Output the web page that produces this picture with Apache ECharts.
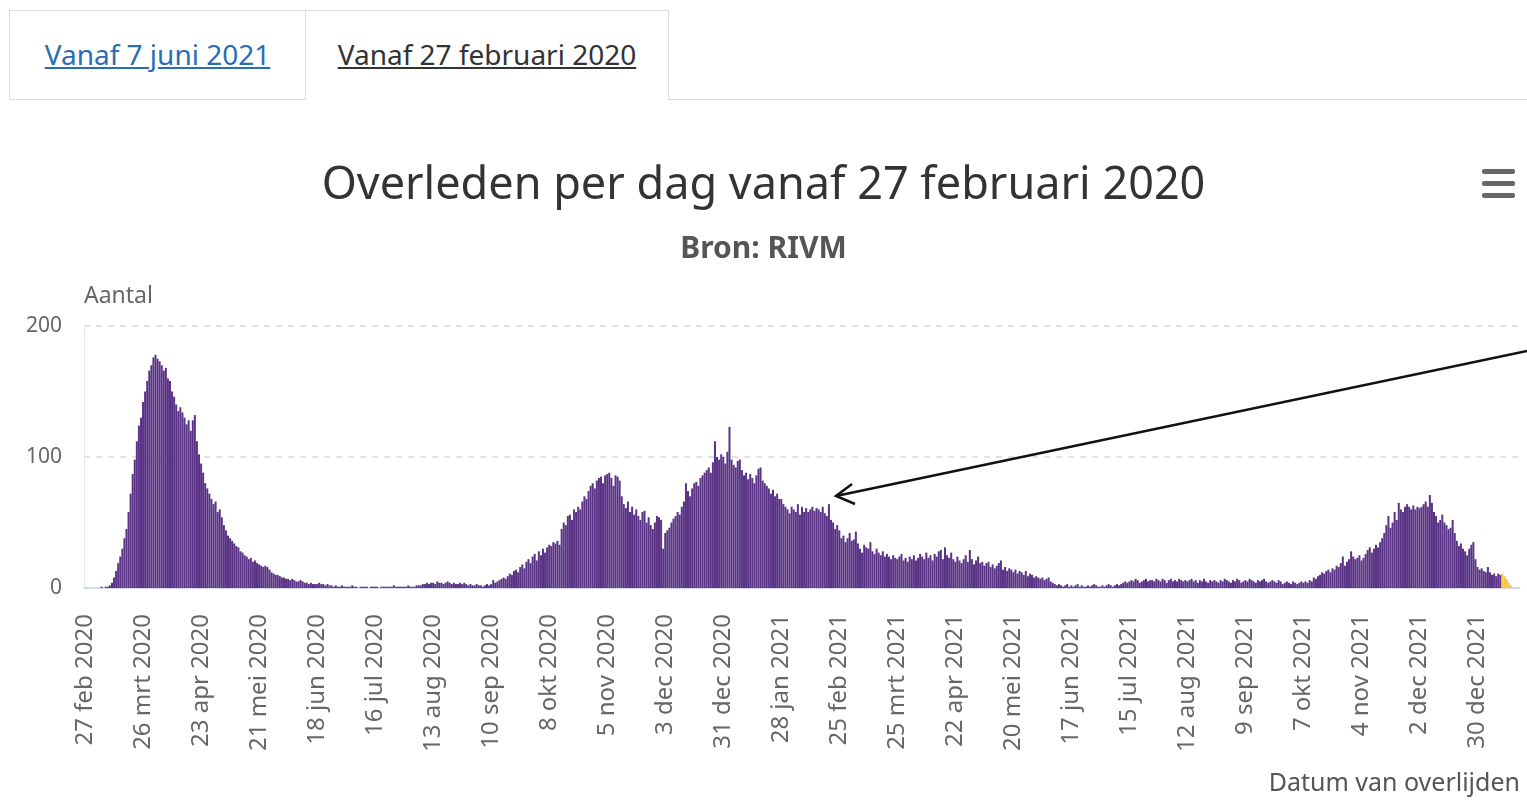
<!DOCTYPE html>
<html>
<head>
<meta charset="utf-8">
<title>Overleden per dag</title>
<script src="https://cdn.jsdelivr.net/npm/echarts@6/dist/echarts.min.js"></script>
<style>
  body { margin: 0; background: #fff; font-family: "Noto Sans", sans-serif; }
  #chartMain { position: absolute; left: 0; top: 0; width: 1527px; height: 800px; }
  .tab {
    position: absolute; top: 10px; height: 90px; box-sizing: border-box;
    border: 1px solid #dcdcdc; background: #fff; z-index: 2;
    font-size: 28px; line-height: 86px; text-align: center;
  }
  .tab a { text-decoration: underline; }
  #tab1 { left: 9px; width: 297px; }
  #tab1 a { color: #2a6db3; }
  #tab2 { left: 305px; width: 364px; border-bottom: none; }
  #tab2 a { color: #333; }
  #tabLine { position: absolute; left: 668px; top: 99px; width: 859px; border-top: 1px solid #dcdcdc; z-index: 2; }
</style>
</head>
<body>
<div id="chartMain"></div>
<div class="tab" id="tab1"><a>Vanaf 7 juni 2021</a></div>
<div class="tab" id="tab2"><a>Vanaf 27 februari 2020</a></div>
<div id="tabLine"></div>
<script>
const maanden = ['jan', 'feb', 'mrt', 'apr', 'mei', 'jun', 'jul', 'aug', 'sep', 'okt', 'nov', 'dec'];
const startDatum = Date.UTC(2020, 1, 27);
const aantalDagen = 693;
const voorlopigVanaf = 684; // laatste dagen nog niet compleet (geel)

// overleden per dag, vanaf 27 feb 2020 (14 dagen per regel)
const overleden = [
  0, 0, 0, 0, 0, 0, 0, 0, 1, 0, 1, 1, 2, 4,
  8, 13, 19, 24, 30, 38, 45, 58, 72, 87, 98, 112, 124, 130,
  142, 150, 158, 166, 170, 176, 178, 175, 173, 170, 166, 168, 160, 158,
  150, 146, 140, 135, 138, 134, 130, 125, 128, 120, 128, 132, 112, 102,
  95, 88, 80, 76, 72, 68, 64, 66, 58, 60, 54, 48, 44, 40,
  38, 36, 34, 32, 31, 28, 27, 25, 24, 22, 23, 20, 21, 19,
  18, 17, 16, 17, 16, 14, 12, 11, 10, 10, 9, 8, 8, 7,
  7, 6, 7, 6, 5, 5, 6, 5, 4, 4, 3, 4, 3, 3,
  3, 4, 3, 3, 2, 3, 2, 2, 1, 2, 1, 1, 2, 1,
  1, 1, 1, 2, 1, 1, 0, 1, 1, 1, 1, 0, 1, 1,
  1, 1, 0, 1, 1, 1, 1, 1, 1, 2, 1, 1, 1, 1,
  1, 1, 2, 1, 1, 1, 2, 2, 2, 3, 3, 4, 3, 4,
  4, 3, 5, 4, 4, 3, 4, 5, 4, 3, 4, 3, 3, 4,
  3, 4, 3, 2, 3, 2, 2, 3, 2, 2, 1, 2, 3, 2,
  3, 6, 4, 5, 6, 7, 8, 7, 9, 11, 10, 13, 14, 12,
  16, 18, 15, 20, 22, 19, 24, 26, 21, 28, 25, 30, 27, 31,
  33, 32, 35, 34, 36, 33, 45, 50, 48, 55, 56, 52, 60, 58,
  62, 60, 66, 70, 68, 74, 78, 80, 76, 82, 84, 85, 80, 86,
  87, 88, 84, 78, 86, 85, 82, 70, 64, 61, 66, 58, 62, 56,
  60, 55, 52, 58, 59, 50, 54, 48, 45, 50, 55, 54, 52, 30,
  42, 44, 46, 50, 53, 55, 58, 56, 62, 66, 80, 74, 70, 76,
  80, 81, 78, 84, 86, 88, 90, 92, 88, 96, 112, 100, 98, 102,
  100, 95, 104, 123, 98, 94, 92, 97, 98, 90, 86, 88, 83, 87,
  84, 80, 86, 91, 92, 82, 80, 78, 76, 72, 75, 70, 72, 68,
  68, 64, 62, 60, 57, 62, 60, 58, 64, 56, 62, 58, 61, 58,
  60, 62, 59, 61, 60, 58, 62, 57, 55, 64, 52, 50, 45, 48,
  44, 38, 40, 35, 38, 42, 36, 37, 43, 34, 30, 27, 33, 31,
  30, 35, 28, 26, 30, 27, 25, 28, 24, 26, 24, 22, 25, 23,
  22, 24, 26, 21, 23, 20, 24, 22, 25, 21, 23, 26, 24, 22,
  27, 23, 25, 21, 26, 24, 28, 29, 22, 31, 25, 23, 27, 22,
  20, 24, 21, 19, 22, 25, 20, 29, 22, 18, 21, 24, 19, 20,
  17, 19, 20, 16, 18, 15, 17, 19, 21, 14, 16, 13, 15, 14,
  12, 14, 11, 13, 12, 10, 13, 9, 11, 10, 8, 9, 8, 7,
  8, 6, 7, 8, 5, 4, 3, 2, 3, 2, 1, 2, 3, 1,
  2, 1, 2, 3, 1, 2, 1, 1, 2, 1, 2, 3, 2, 1,
  1, 2, 1, 2, 3, 2, 1, 2, 3, 2, 3, 4, 5, 4,
  5, 6, 5, 7, 6, 4, 5, 6, 7, 5, 6, 6, 5, 7,
  6, 5, 7, 6, 4, 6, 7, 5, 6, 5, 7, 6, 5, 6,
  5, 6, 7, 5, 6, 4, 6, 5, 7, 5, 4, 6, 5, 6,
  5, 4, 6, 5, 7, 6, 5, 4, 6, 5, 7, 6, 4, 5,
  6, 5, 7, 6, 5, 4, 6, 5, 6, 7, 5, 4, 5, 6,
  5, 4, 6, 5, 3, 4, 5, 4, 3, 5, 4, 3, 4, 5,
  4, 5, 4, 6, 5, 8, 7, 9, 10, 12, 11, 13, 14, 12,
  15, 14, 17, 16, 19, 24, 17, 20, 22, 28, 24, 22, 23, 25,
  21, 23, 26, 29, 31, 27, 30, 33, 31, 35, 38, 42, 48, 55,
  46, 50, 58, 52, 65, 60, 58, 62, 64, 62, 60, 63, 60, 62,
  61, 62, 64, 66, 62, 71, 65, 58, 55, 50, 52, 56, 50, 48,
  45, 46, 52, 42, 36, 32, 34, 30, 28, 25, 30, 33, 35, 22,
  16, 14, 15, 13, 12, 16, 12, 10, 11, 9, 11, 10, 11, 9,
  7, 4, 2, null, null, null, null
];

const dagen = [];
for (let i = 0; i < aantalDagen; i++) {
  const d = new Date(startDatum + i * 86400000);
  dagen.push(d.getUTCDate() + ' ' + maanden[d.getUTCMonth()] + ' ' + d.getUTCFullYear());
}

const compleet = overleden.map((v, i) => (i < voorlopigVanaf ? v : null));
const voorlopig = overleden.map((v, i) => (i >= voorlopigVanaf ? v : null));

const chart = echarts.init(document.getElementById('chartMain'));
const font = 'Noto Sans';
const option = {
  backgroundColor: '#fff',
  animation: false,
  title: {
    text: 'Overleden per dag vanaf 27 februari 2020',
    subtext: 'Bron: RIVM',
    left: 'center',
    top: 159,
    itemGap: 25,
    textStyle: { fontFamily: font, fontSize: 45, fontWeight: 'normal', color: '#333' },
    subtextStyle: { fontFamily: font, fontSize: 30, fontWeight: 'bold', color: '#555' }
  },
  grid: { left: 84, right: 7, top: 326, bottom: 212 },
  xAxis: {
    type: 'category',
    data: dagen,
    boundaryGap: true,
    axisLine: { lineStyle: { color: '#ccd6eb', width: 1.5 } },
    axisTick: { interval: 27, length: 8, alignWithLabel: true, lineStyle: { color: '#ccd6eb' } },
    axisLabel: { interval: 27, rotate: 90, margin: 26, fontFamily: font, fontSize: 24, color: '#666' }
  },
  yAxis: {
    type: 'value',
    min: 0,
    max: 200,
    interval: 100,
    name: 'Aantal',
    nameGap: 18,
    nameTextStyle: { fontFamily: font, fontSize: 23, color: '#666', align: 'left' },
    axisLine: { show: true, lineStyle: { color: '#e3e7ef' } },
    axisLabel: { margin: 22, fontFamily: font, fontSize: 21, color: '#666' },
    splitLine: { lineStyle: { color: '#d9d9d9', type: [6, 6], width: 1.5 } }
  },
  series: [
    {
      name: 'Overleden',
      type: 'bar',
      data: compleet,
      barCategoryGap: '3%',
      barGap: '-100%',
      itemStyle: { color: '#5a3386' }
    },
    {
      name: 'Nog niet compleet',
      type: 'bar',
      data: voorlopig,
      barCategoryGap: '3%',
      barGap: '-100%',
      itemStyle: { color: '#f4c13f' }
    }
  ],
  graphic: [
    {
      type: 'text',
      right: 7,
      top: 771,
      style: { text: 'Datum van overlijden', fontFamily: font, fontSize: 25, fill: '#555' }
    },
    {
      type: 'group',
      left: 1482,
      top: 169,
      children: [
        { type: 'rect', shape: { x: 0, y: 0, width: 33, height: 5, r: 2 }, style: { fill: '#666' } },
        { type: 'rect', shape: { x: 0, y: 12, width: 33, height: 5, r: 2 }, style: { fill: '#666' } },
        { type: 'rect', shape: { x: 0, y: 24, width: 33, height: 5, r: 2 }, style: { fill: '#666' } }
      ]
    },
    // pijl naar de periode rond 25 feb 2021
    {
      type: 'line',
      shape: { x1: 1527, y1: 351, x2: 836, y2: 496 },
      style: { stroke: '#111', lineWidth: 2.5 },
      z: 10
    },
    {
      type: 'polyline',
      shape: { points: [[852, 484], [836, 496], [855, 504]] },
      style: { stroke: '#111', lineWidth: 2.5, fill: null },
      z: 10
    }
  ]
};
chart.setOption(option);
</script>
</body>
</html>
